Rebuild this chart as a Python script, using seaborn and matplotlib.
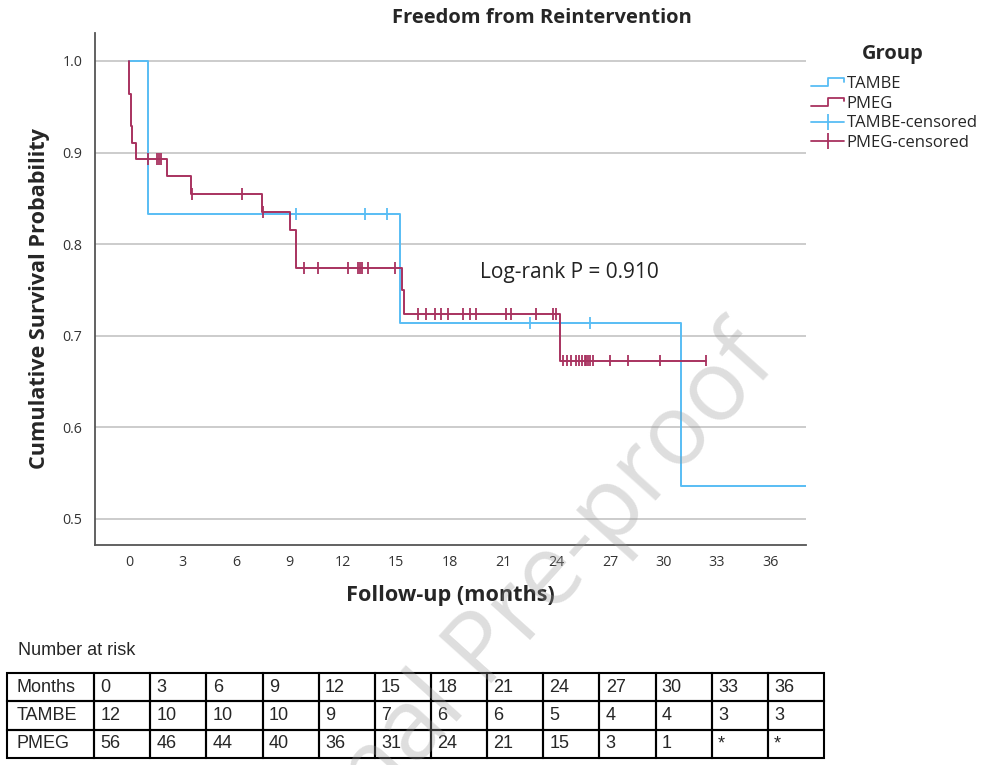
#!/usr/bin/env python3
"""
Kaplan-Meier style plot: freedom from reintervention, TAMBE vs PMEG,
with a number-at-risk table under it. Writes out.png.
"""
import numpy as np
import pandas as pd
import matplotlib
matplotlib.use('Agg')
import matplotlib.pyplot as plt
import seaborn as sns
from matplotlib.lines import Line2D
from matplotlib.legend_handler import HandlerBase

# step curves (time in months, survival after the drop)
tambe_time = [0, 1.05, 15.2, 31.0]
tambe_surv = [1.0, 0.833, 0.714, 0.536]
tambe_end = 39.0
tambe_censor = [9.4, 13.25, 14.5, 22.5, 25.9]

pmeg_time = [0, 0.03, 0.1, 0.2, 0.4, 2.15, 3.5, 7.45, 9.03, 9.37, 15.3, 15.42, 24.17]
pmeg_surv = [1.0, 0.964, 0.929, 0.911, 0.893, 0.874, 0.855, 0.835, 0.815,
             0.774, 0.75, 0.724, 0.673]
pmeg_end = 32.4
pmeg_censor = [1.08, 1.55, 1.68, 1.80, 3.55, 6.32, 7.5, 9.82, 10.64, 12.3, 12.86,
               12.99, 13.1, 13.42, 14.93, 16.23, 16.69, 17.16, 17.53, 17.9, 18.74,
               19.12, 19.49, 21.14, 21.42, 22.82, 23.8, 23.99, 24.36, 24.58, 24.83,
               25.11, 25.26, 25.41, 25.57, 25.67, 25.78, 25.89, 26.04, 27.0, 28.0,
               29.8, 32.4]

# number at risk
risk_months = ['0', '3', '6', '9', '12', '15', '18', '21', '24', '27', '30', '33', '36']
risk_tambe = ['12', '10', '10', '10', '9', '7', '6', '6', '5', '4', '4', '3', '3']
risk_pmeg = ['56', '46', '44', '40', '36', '31', '24', '21', '15', '3', '1', '*', '*']

x_ticks = [0, 3, 6, 9, 12, 15, 18, 21, 24, 27, 30, 33, 36]
y_ticks = [0.5, 0.6, 0.7, 0.8, 0.9, 1.0]

C_TAMBE = '#58BDF4'
C_PMEG = '#A8325F'


def curve_frame(name, times, surv, end):
    t = list(times) + [end]
    s = list(surv) + [surv[-1]]
    return pd.DataFrame({'time': t, 'surv': s, 'group': name})


def censor_frame(name, times, surv, cens):
    idx = np.searchsorted(times, cens, side='right') - 1
    return pd.DataFrame({'time': cens, 'surv': np.array(surv)[idx], 'group': name})


class StepHandler(HandlerBase):
    def create_artists(self, legend, orig_handle, xdescent, ydescent,
                       width, height, fontsize, trans):
        x0 = -xdescent
        y0 = -ydescent
        xs = [x0, x0 + 0.5 * width, x0 + 0.5 * width, x0 + width, x0 + width]
        ys = [y0 + 0.15 * height, y0 + 0.15 * height, y0 + 0.85 * height,
              y0 + 0.85 * height, y0 + 0.55 * height]
        ln = Line2D(xs, ys, color=orig_handle.get_color(), lw=1.3)
        ln.set_transform(trans)
        return [ln]


sns.set_theme(style='white')
plt.rcParams['font.family'] = ['Open Sans', 'DejaVu Sans']

fig = plt.figure(figsize=(9.88, 7.65), dpi=100)
ax = fig.add_axes([0.0962, 0.2876, 0.7196, 0.6693])

curves = pd.concat([curve_frame('TAMBE', tambe_time, tambe_surv, tambe_end),
                    curve_frame('PMEG', pmeg_time, pmeg_surv, pmeg_end)])
cens = pd.concat([censor_frame('TAMBE', tambe_time, tambe_surv, tambe_censor),
                  censor_frame('PMEG', pmeg_time, pmeg_surv, pmeg_censor)])
pal = {'TAMBE': C_TAMBE, 'PMEG': C_PMEG}

for g in ['TAMBE', 'PMEG']:
    d = curves[curves['group'] == g]
    ax.plot(d['time'], d['surv'], drawstyle='steps-post', color=pal[g], lw=1.4, zorder=3)
sns.scatterplot(data=cens, x='time', y='surv', hue='group', palette=pal,
                marker='|', s=70, linewidth=1.3, ax=ax, legend=False, zorder=4)

ax.set_xlim(-1.9, 38.0)
ax.set_ylim(0.4716, 1.0306)
ax.set_xticks(x_ticks)
ax.set_yticks(y_ticks)
ax.set_yticklabels([f'{v:.1f}' for v in y_ticks])
ax.tick_params(axis='both', length=0, labelsize=10.3, colors='#333333')
ax.tick_params(axis='x', pad=7)
ax.tick_params(axis='y', pad=9)
ax.yaxis.grid(True, color='#C8C8C8', lw=1.3)
ax.xaxis.grid(False)
for side in ['top', 'right']:
    ax.spines[side].set_visible(False)
for side in ['left', 'bottom']:
    ax.spines[side].set_color('#555555')
    ax.spines[side].set_linewidth(1.3)
ax.set_xlabel('Follow-up (months)', fontsize=15.6, fontweight='bold', labelpad=11)
ax.set_ylabel('Cumulative Survival Probability', fontsize=15.6, fontweight='bold')
ax.yaxis.set_label_coords(-0.063, 0.482)

ax.text(19.7, 0.7686, 'Log-rank P = 0.910', fontsize=15, ha='left', va='center',
        color='#222222')

fig.text(0.5486, 0.9765, 'Freedom from Reintervention', fontsize=14.5, fontweight='bold',
         ha='center', va='center')

# legend outside, right (title drawn separately for its gap)
fig.text(0.904, 0.930, 'Group', fontsize=14.5, fontweight='bold', ha='center', va='center')
h_tambe = Line2D([], [], color=C_TAMBE)
h_pmeg = Line2D([], [], color=C_PMEG)
h_tc = Line2D([], [], color=C_TAMBE, lw=1.3, marker='|', markersize=11, mew=1.3)
h_pc = Line2D([], [], color=C_PMEG, lw=1.3, marker='|', markersize=11, mew=1.3)
leg = fig.legend([h_tambe, h_pmeg, h_tc, h_pc],
                 ['TAMBE', 'PMEG', 'TAMBE-censored', 'PMEG-censored'],
                 handler_map={h_tambe: StepHandler(), h_pmeg: StepHandler()},
                 loc='upper left', bbox_to_anchor=(0.809, 0.9157),
                 frameon=False, fontsize=12, handlelength=2.0, handletextpad=0.15,
                 labelspacing=0.22, numpoints=1, borderpad=0.2)

# number at risk table
fig.text(0.018, 0.150, 'Number at risk', fontsize=13, ha='left', va='center',
         family=['Liberation Sans', 'DejaVu Sans'])
tax = fig.add_axes([0.0071, 0.00915, 0.827, 0.111])
tax.axis('off')
cells = [['Months'] + risk_months, ['TAMBE'] + risk_tambe, ['PMEG'] + risk_pmeg]
widths = [88] + [56.7] * len(risk_months)
widths = [w / sum(widths) for w in widths]
tbl = tax.table(cellText=cells, cellLoc='left', colWidths=widths,
                bbox=[0, 0, 1, 1])
tbl.auto_set_font_size(False)
for (r, c), cell in tbl.get_celld().items():
    cell.set_linewidth(1.5)
    cell.set_edgecolor('black')
    cell.set_facecolor('none')
    cell.PAD = 0.11
    cell.get_text().set_fontsize(13)
    cell.get_text().set_family(['Liberation Sans', 'DejaVu Sans'])

# journal watermark
fig.text(0.504, 0.1556, 'Journal Pre-proof', fontsize=71, color='#9a9a9a', alpha=0.32,
         rotation=48, ha='center', va='center', rotation_mode='anchor', zorder=10)

plt.savefig('out.png', dpi=100)
print('Wrote out.png')
